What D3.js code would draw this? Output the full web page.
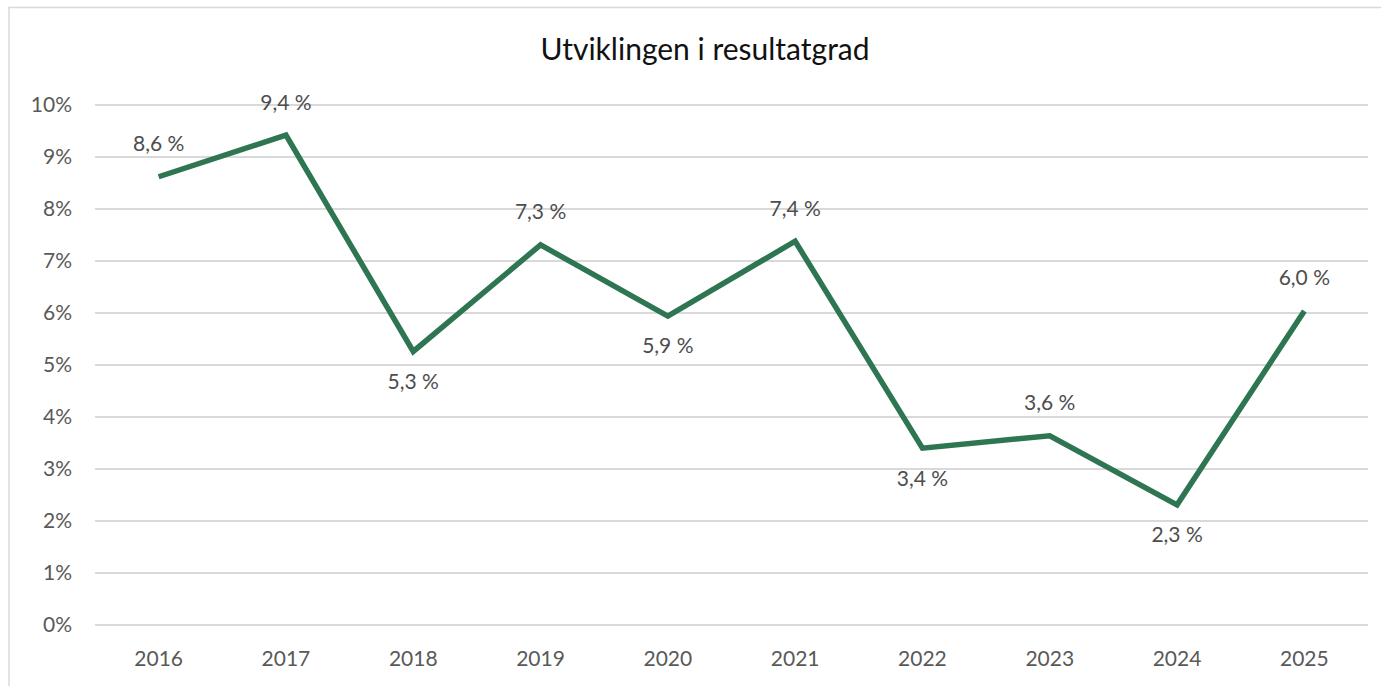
<!DOCTYPE html>
<html>
<head>
<meta charset="utf-8">
<script src="https://cdn.jsdelivr.net/npm/d3@7"></script>
<style>
  body { margin: 0; background: #fff; }
  svg { display: block; font-family: Lato, "Open Sans", sans-serif; }
</style>
</head>
<body>
<div id="chart"></div>
<script>
// Data
const years = ["2016", "2017", "2018", "2019", "2020", "2021", "2022", "2023", "2024", "2025"];
const values = [8.62, 9.42, 5.26, 7.31, 5.94, 7.38, 3.40, 3.64, 2.31, 6.04];
const labelPos = ["above", "above", "below", "above", "below", "above", "below", "above", "below", "above"];
const yTicks = [0, 1, 2, 3, 4, 5, 6, 7, 8, 9, 10];
const title = "Utviklingen i resultatgrad";

const width = 1381;
const height = 686;
const margin = {top: 105, right: 13, bottom: 61, left: 95};

const svg = d3.select("#chart")
    .append("svg")
    .attr("width", width)
    .attr("height", height);

// Rahmen
svg.append("rect")
    .attr("x", 9)
    .attr("y", 7.5)
    .attr("width", width + 10)
    .attr("height", height + 10)
    .attr("fill", "#fff")
    .attr("stroke", "#d9d9d9")
    .attr("stroke-width", 1.5);

const x = d3.scaleBand()
    .domain(years)
    .range([margin.left, width - margin.right]);

const y = d3.scaleLinear()
    .domain([0, 10])
    .range([height - margin.bottom, margin.top]);

// Titel
svg.append("text")
    .attr("x", 705)
    .attr("y", 60)
    .attr("text-anchor", "middle")
    .attr("font-size", 30)
    .attr("fill", "#111")
    .text(title);

// Gitterlinien
svg.append("g")
    .selectAll("line")
    .data(yTicks)
    .join("line")
    .attr("x1", margin.left)
    .attr("x2", width - margin.right)
    .attr("y1", d => y(d))
    .attr("y2", d => y(d))
    .attr("stroke", "#d9d9d9")
    .attr("stroke-width", 2);

// Y-Achse
svg.append("g")
    .selectAll("text")
    .data(yTicks)
    .join("text")
    .attr("x", 72)
    .attr("y", d => y(d))
    .attr("dy", "0.35em")
    .attr("text-anchor", "end")
    .attr("font-size", 21)
    .attr("fill", "#595959")
    .text(d => d + "%");

// X-Achse
svg.append("g")
    .selectAll("text")
    .data(years)
    .join("text")
    .attr("x", d => x(d) + x.bandwidth() / 2)
    .attr("y", 659)
    .attr("dy", "0.35em")
    .attr("text-anchor", "middle")
    .attr("font-size", 21)
    .attr("fill", "#595959")
    .text(d => d);

// Linie
const line = d3.line()
    .x((d, i) => x(years[i]) + x.bandwidth() / 2)
    .y(d => y(d));

svg.append("path")
    .datum(values)
    .attr("d", line)
    .attr("fill", "none")
    .attr("stroke", "#2e7552")
    .attr("stroke-width", 5.5)
    .attr("stroke-linejoin", "miter");

// Datenbeschriftungen
const fmt = v => d3.format(".1f")(v).replace(".", ",") + " %";

svg.append("g")
    .selectAll("text")
    .data(values)
    .join("text")
    .attr("x", (d, i) => x(years[i]) + x.bandwidth() / 2)
    .attr("y", (d, i) => y(d) + (labelPos[i] === "above" ? -33 : 30))
    .attr("dy", "0.35em")
    .attr("text-anchor", "middle")
    .attr("font-size", 21)
    .attr("fill", "#4d4d4d")
    .text(d => fmt(d));
</script>
</body>
</html>
